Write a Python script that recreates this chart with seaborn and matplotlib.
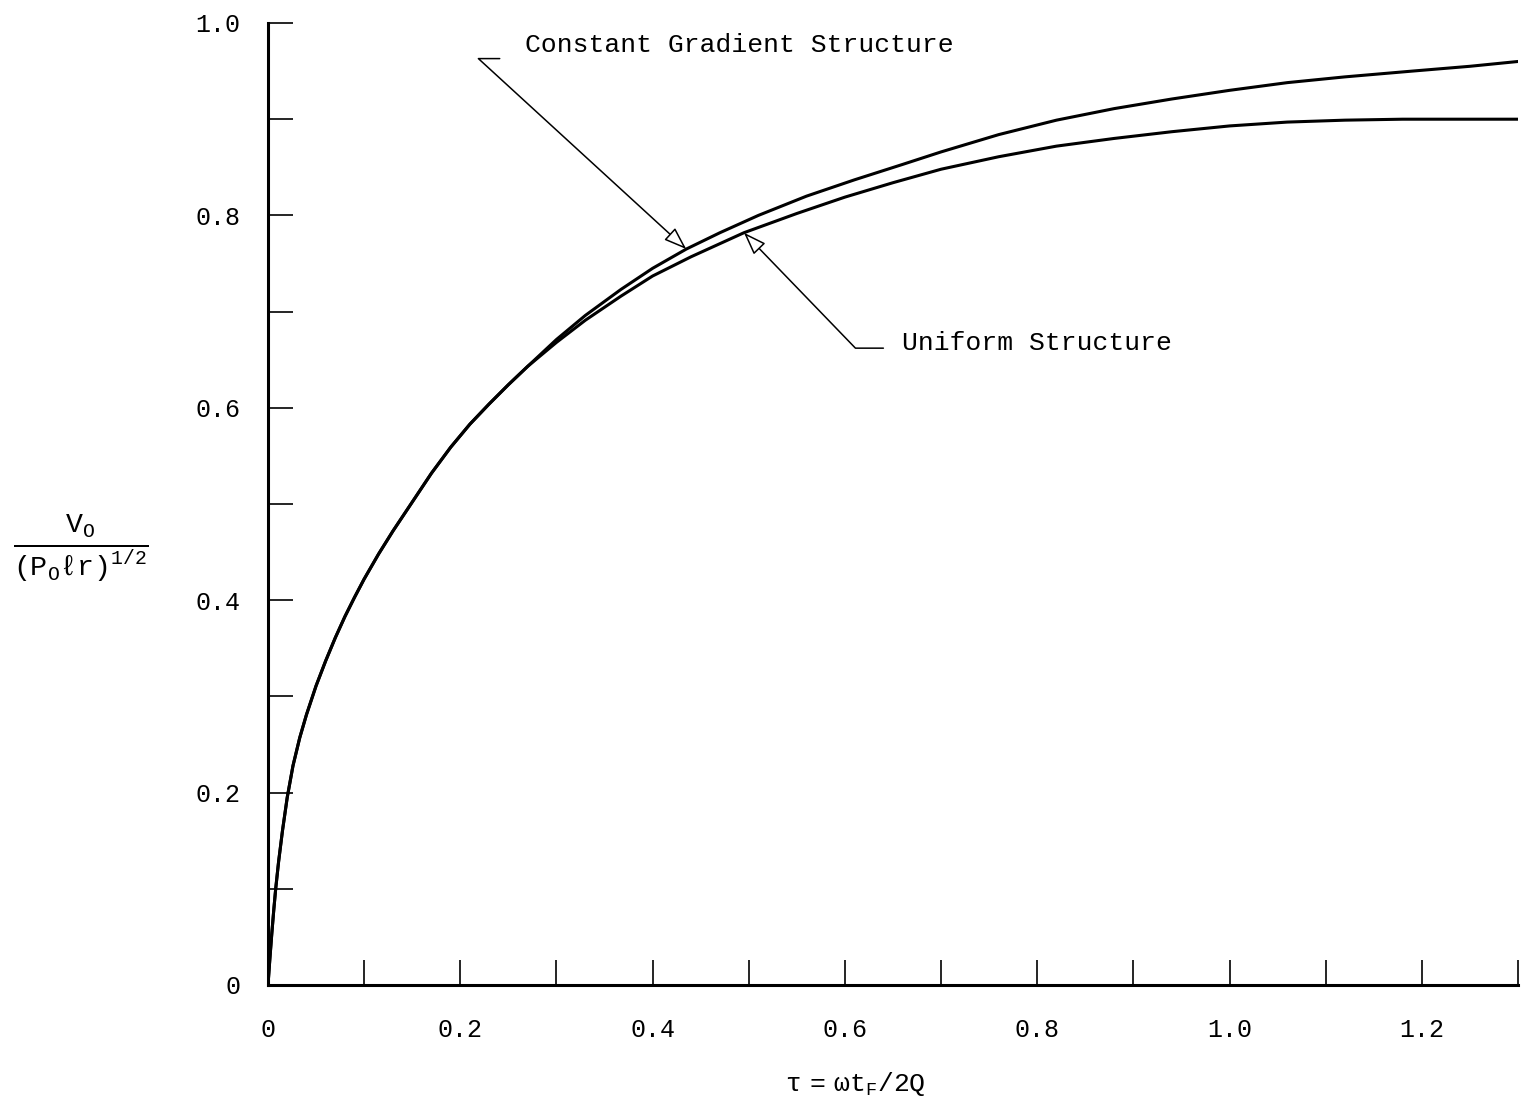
#!/usr/bin/env python3
# coding: utf-8

import pandas as pd
import matplotlib
matplotlib.use("Agg")
import matplotlib.pyplot as plt
import seaborn as sns

# values (scan tilted ~1.6 deg, corrected)
# both curves run together up to tau ~ 0.27
tau_common = [0.0, 0.002, 0.004, 0.006, 0.008, 0.011, 0.015, 0.020, 0.026,
              0.033, 0.040, 0.050, 0.060, 0.070, 0.080, 0.090, 0.100, 0.115,
              0.130, 0.150, 0.170, 0.190, 0.210, 0.230, 0.250, 0.270]
v_common = [0.0, 0.028, 0.054, 0.078, 0.100, 0.128, 0.160, 0.195, 0.228,
            0.257, 0.281, 0.311, 0.337, 0.361, 0.383, 0.403, 0.422, 0.448,
            0.472, 0.502, 0.532, 0.559, 0.583, 0.604, 0.624, 0.643]

# constant gradient structure (upper branch)
tau_cg = [0.30, 0.33, 0.367, 0.40, 0.435, 0.47, 0.51, 0.56, 0.61, 0.66,
          0.70, 0.76, 0.82, 0.88, 0.94, 1.00, 1.06, 1.12, 1.19, 1.25, 1.30]
v_cg = [0.671, 0.696, 0.723, 0.745, 0.765, 0.782, 0.800, 0.820, 0.837, 0.853,
        0.866, 0.884, 0.899, 0.911, 0.921, 0.930, 0.938, 0.944, 0.950, 0.955,
        0.960]

# uniform structure (lower branch)
tau_uni = [0.30, 0.33, 0.367, 0.40, 0.44, 0.495, 0.55, 0.60, 0.65, 0.70,
           0.76, 0.82, 0.88, 0.94, 1.00, 1.06, 1.12, 1.18, 1.24, 1.30]
v_uni = [0.668, 0.691, 0.716, 0.737, 0.757, 0.782, 0.802, 0.819, 0.834, 0.848,
         0.861, 0.872, 0.880, 0.887, 0.893, 0.897, 0.899, 0.900, 0.900, 0.900]

x_ticks = [0, 0.2, 0.4, 0.6, 0.8, 1.0, 1.2]
x_tick_labels = ["0", "0.2", "0.4", "0.6", "0.8", "1.0", "1.2"]
x_minor = [0.1, 0.3, 0.5, 0.7, 0.9, 1.1, 1.3]
y_ticks = [0, 0.2, 0.4, 0.6, 0.8, 1.0]
y_tick_labels = ["0", "0.2", "0.4", "0.6", "0.8", "1.0"]
y_minor = [0.1, 0.3, 0.5, 0.7, 0.9]

label_cg = "Constant Gradient Structure"
label_uni = "Uniform Structure"
x_title = r"$\tau\ =\ \omega\mathrm{t_F/2Q}$"
y_title = r"$\frac{\mathrm{V_O}}{\mathrm{(P_O}\ell\mathrm{r)^{1/2}}}$"

# annotation anchors (text start, leader start, arrow tip) in data units
cg_text = (0.267, 0.977)
cg_lead = (0.241, 0.963)
cg_tip = (0.435, 0.765)
cg_angle = -42.5
uni_text = (0.659, 0.667)
uni_lead = (0.640, 0.662)
uni_tip = (0.495, 0.782)
uni_angle = -46


def build_frame():
    ''' long table, one block per structure '''
    cg = pd.DataFrame({"tau": tau_common + tau_cg, "v": v_common + v_cg})
    cg["structure"] = label_cg
    uni = pd.DataFrame({"tau": tau_common + tau_uni, "v": v_common + v_uni})
    uni["structure"] = label_uni
    return pd.concat([cg, uni], ignore_index=True)


def leader(ax, text_pos, lead_pos, tip, angle, text):
    ''' label with a short horizontal stub, then a slanted arrow '''
    ax.text(*text_pos, text, ha="left", va="center", fontsize=19,
            color="black")
    ax.annotate("", xy=tip, xytext=lead_pos,
                arrowprops=dict(arrowstyle="-|>,head_length=0.7,head_width=0.25",
                                connectionstyle=f"angle,angleA=0,angleB={angle},rad=0",
                                ec="black", fc="white", lw=1.1,
                                shrinkA=0, shrinkB=0, mutation_scale=20))


def main():
    sns.set_theme(style="ticks")
    plt.rcParams["font.family"] = ["Liberation Mono", "DejaVu Sans"]
    plt.rcParams["mathtext.fontset"] = "custom"
    plt.rcParams["mathtext.rm"] = "Liberation Mono"
    plt.rcParams["mathtext.it"] = "Liberation Mono"
    plt.rcParams["mathtext.bf"] = "Liberation Mono:bold"

    df = build_frame()

    fig = plt.figure(figsize=(15.23, 11.18), dpi=100)
    ax = fig.add_axes([268 / 1523, 133 / 1118, 1250 / 1523, 962 / 1118])

    sns.lineplot(data=df, x="tau", y="v", hue="structure",
                 palette={label_cg: "black", label_uni: "black"},
                 estimator=None, sort=False, legend=False,
                 linewidth=2.2, ax=ax)

    ax.set_xlim(0, 1.3)
    ax.set_ylim(0, 1.0)
    ax.set_xticks(x_ticks)
    ax.set_xticklabels(x_tick_labels)
    ax.set_xticks(x_minor, minor=True)
    ax.set_yticks(y_ticks)
    ax.set_yticklabels(y_tick_labels)
    ax.set_yticks(y_minor, minor=True)

    for side in ["top", "right"]:
        ax.spines[side].set_visible(False)
    for side in ["left", "bottom"]:
        ax.spines[side].set_linewidth(2.2)
        ax.spines[side].set_color("black")

    ax.tick_params(axis="both", which="both", direction="in", length=18,
                   width=1.2, color="black", labelcolor="black", labelsize=18)
    ax.tick_params(axis="x", which="major", pad=24)
    ax.tick_params(axis="y", which="major", pad=20)

    ax.set_xlabel(x_title, fontsize=19, color="black")
    ax.xaxis.set_label_coords(0.47, -0.088)
    ax.set_ylabel(y_title, fontsize=29, color="black", rotation=0,
                  ha="center", va="center")
    ax.yaxis.set_label_coords(-0.150, 0.454)

    leader(ax, cg_text, cg_lead, cg_tip, cg_angle, label_cg)
    leader(ax, uni_text, uni_lead, uni_tip, uni_angle, label_uni)

    fig.savefig("out.png", dpi=100, facecolor="white")


if __name__ == "__main__":
    main()
